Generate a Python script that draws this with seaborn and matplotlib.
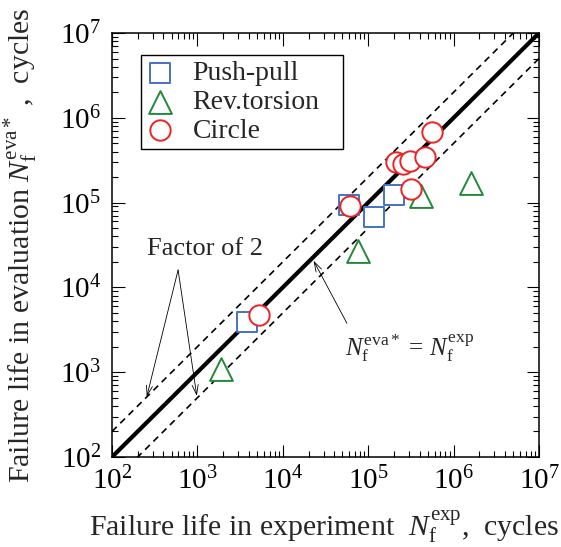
import numpy as np
import pandas as pd
import matplotlib
matplotlib.use("Agg")
import matplotlib.pyplot as plt
from matplotlib.ticker import LogLocator, NullFormatter
import seaborn as sns

# ---- data ----
push_exp = [3790, 58900, 115600, 198600]
push_eva = [3940, 93700, 68200, 123000]

tors_exp = [1900, 75900, 416000, 1620000]
tors_eva = [1090, 26900, 119700, 171800]

circ_exp = [5330, 61700, 560000, 213000, 256000, 305000, 467000, 318000]
circ_eva = [4730, 91200, 685000, 303000, 285000, 310000, 348000, 143600]

guide_x = [1e2, 1e7]
ident_y = [1e2, 1e7]
upper_y = [2e2, 2e7]
lower_y = [5e1, 5e6]

series_names = ["Push-pull", "Rev.torsion", "Circle"]

sns.set_style("ticks")
plt.rcParams["font.family"] = ["Liberation Serif", "DejaVu Serif"]
plt.rcParams["mathtext.fontset"] = "custom"
plt.rcParams["mathtext.rm"] = "Liberation Serif"
plt.rcParams["mathtext.it"] = "Liberation Serif:italic"
plt.rcParams["mathtext.bf"] = "Liberation Serif:bold"

fig = plt.figure(figsize=(5.61, 5.47), dpi=100)
ax = fig.add_axes([112 / 561, (547 - 457) / 547, 427 / 561, 424 / 547])
ax.set_xscale("log")
ax.set_yscale("log")

# guide lines
sns.lineplot(x=guide_x, y=upper_y, ax=ax, color="black", lw=1.2, zorder=1)
ax.lines[-1].set_dashes((4, 3))
sns.lineplot(x=guide_x, y=lower_y, ax=ax, color="black", lw=1.2, zorder=1)
ax.lines[-1].set_dashes((4, 3))
sns.lineplot(x=guide_x, y=ident_y, ax=ax, color="black", lw=3.0, zorder=1)

# data points
sns.scatterplot(x=push_exp, y=push_eva, ax=ax, marker="s", s=210,
                facecolor="white", edgecolor="#4472C4", linewidth=1.4,
                label=series_names[0], zorder=3)
sns.scatterplot(x=tors_exp, y=tors_eva, ax=ax, marker="^", s=270,
                facecolor="white", edgecolor="#23883A", linewidth=1.4,
                label=series_names[1], zorder=3)
sns.scatterplot(x=circ_exp, y=circ_eva, ax=ax, marker="o", s=215,
                facecolor="white", edgecolor="#EE2222", linewidth=1.4,
                label=series_names[2], zorder=4)

ax.set_xlim(1e2, 1e7)
ax.set_ylim(1e2, 1e7)

for axis in (ax.xaxis, ax.yaxis):
    axis.set_major_locator(LogLocator(base=10, numticks=12))
    axis.set_minor_locator(LogLocator(base=10, subs=np.arange(2, 10), numticks=12))
    axis.set_minor_formatter(NullFormatter())

for sp in ax.spines.values():
    sp.set_linewidth(1.1)
    sp.set_color("black")

ax.tick_params(which="both", direction="in", top=True, right=True,
               colors="black", labelsize=21)
ax.tick_params(which="major", length=9, width=0.8)
ax.tick_params(which="minor", length=4.5, width=0.8)
ax.tick_params(axis="x", which="major", pad=7)
ax.tick_params(axis="y", which="major", pad=8)

ax.set_xlabel(r"Failure life in experiment  $N_\mathrm{f}^\mathrm{exp}$,  cycles",
              fontsize=21.5)
ax.set_ylabel(r"Failure life in evaluation $N_\mathrm{f}^\mathrm{eva*}$ ,  cycles",
              fontsize=21.5)
ax.xaxis.set_label_coords(0.496, -0.12)
ax.yaxis.set_label_coords(-0.168, 0.5)

leg = ax.legend(loc="upper left", bbox_to_anchor=(0.068, 0.5, 0.473, 0.448),
                mode="expand", borderaxespad=0, fontsize=20, frameon=True,
                fancybox=False, edgecolor="black", framealpha=1,
                handlelength=1.0, handletextpad=0.65, borderpad=0.2,
                labelspacing=0.12, markerscale=1.0)
leg.get_frame().set_linewidth(1.0)

# annotations
ax.text(10 ** 2.41, 10 ** 4.453, "Factor of 2", fontsize=19,
        ha="left", va="center")
arrow = dict(arrowstyle="->,head_length=0.7,head_width=0.22", lw=0.6,
             color="black", shrinkA=0, shrinkB=0)
ax.annotate("", xy=(10 ** 2.407, 10 ** 2.711), xytext=(10 ** 2.774, 10 ** 4.205),
            arrowprops=arrow)
ax.annotate("", xy=(10 ** 2.993, 10 ** 2.72), xytext=(10 ** 2.774, 10 ** 4.205),
            arrowprops=arrow)
ax.annotate("", xy=(10 ** 4.36, 10 ** 4.315), xytext=(10 ** 4.751, 10 ** 3.577),
            arrowprops=arrow)
ax.text(10 ** 4.73, 10 ** 3.285,
        r"$N_\mathrm{f}^\mathrm{eva*}\,=\,N_\mathrm{f}^\mathrm{exp}$",
        fontsize=18, ha="left", va="center")

fig.savefig("out.png", dpi=100)
